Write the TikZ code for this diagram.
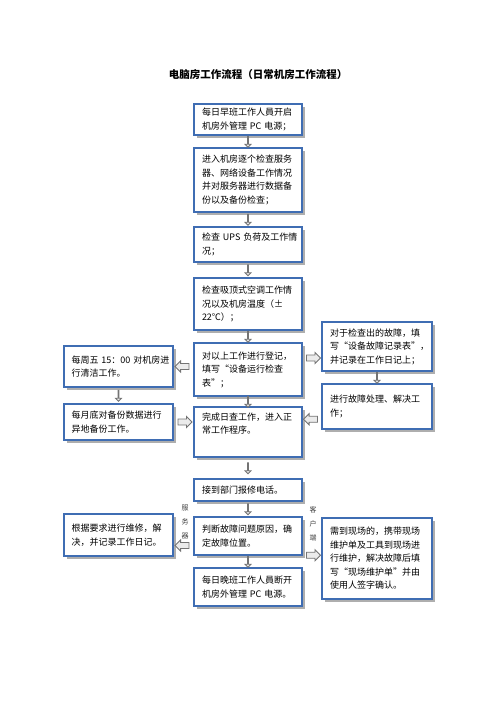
\documentclass[tikz,border=0pt]{standalone}
\usepackage{fontspec}
\setmainfont{Noto Sans CJK SC}
\usetikzlibrary{shapes.arrows,shadows,calc}
\definecolor{boxblue}{HTML}{3F6DB3}
\begin{document}
\begin{tikzpicture}[x=1pt,y=-1pt,
  bx/.style={draw=boxblue, line width=1.6pt, fill=white,
    drop shadow={shadow xshift=2.5pt, shadow yshift=-2.5pt, fill=black!45, opacity=0.7},
    align=left, inner sep=0pt, font=\fontsize{9}{13.5}\selectfont},
  mainbox/.style={bx, minimum width=108pt, text width=92pt},
  sidebox/.style={bx, minimum width=109pt, text width=94pt},
  blk/.style={single arrow, draw=black!55, fill=black!8, line width=0.8pt,
    inner xsep=0pt, inner ysep=2.6pt, single arrow head extend=2.6pt},
  dn/.style={blk, minimum height=11pt, shape border rotate=270},
  rt/.style={blk, minimum height=14pt, shape border rotate=0},
  lt/.style={blk, minimum height=14pt, shape border rotate=180},
  vlab/.style={align=center, font=\fontsize{7}{14}\selectfont, text=black!75, inner sep=0pt}
]
\useasboundingbox (0,0) rectangle (496,702);

\node[font=\fontsize{10.5}{12}\selectfont\bfseries] (title) at (258,75) {电脑房工作流程（日常机房工作流程）};

\node[mainbox, minimum height=31pt] (b1) at (248,119.5) {每日早班工作人員开启\\机房外管理~PC~电源；};
\node[mainbox, minimum height=64pt] (b2) at (248,180) {进入机房逐个检查服务\\器、网络设备工作情况\\并对服务器进行数据备\\份以及备份检查；};
\node[mainbox, minimum height=35pt] (b3) at (248,244.5) {检查~UPS~负荷及工作情\\况；};
\node[mainbox, minimum height=52pt] (b4) at (248,304) {检查吸顶式空调工作情\\况以及机房温度（±\\22℃）；};
\node[mainbox, minimum height=53pt] (b5) at (248,369.5) {对以上工作进行登记，\\填写“设备运行检查\\表”；};
\node[mainbox, minimum height=50pt] (b6) at (248,432) {完成日查工作，进入正\\常工作程序。\\ \strut};
\node[mainbox, minimum height=22pt] (b7) at (248,490) {接到部门报修电话。};
\node[mainbox, minimum height=38pt] (b8) at (248,536) {判断故障问题原因，确\\定故障位置。};
\node[mainbox, minimum height=38pt] (b9) at (248,587) {每日晚班工作人員断开\\机房外管理~PC~电源。};

\node[sidebox, minimum height=41pt] (l1) at (118.5,366.5) {每周五~15：00~对机房进\\行清洁工作。};
\node[sidebox, minimum height=36pt] (l2) at (118.5,422) {每月底对备份数据进行\\异地备份工作。};
\node[sidebox, minimum height=42pt] (l3) at (118.5,535) {根据要求进行维修，解\\决，并记录工作日记。};

\node[sidebox, minimum width=110pt, minimum height=49pt] (r1) at (377,346.5) {对于检查出的故障，填\\写“设备故障记录表”，\\并记录在工作日记上；};
\node[sidebox, minimum width=110pt, minimum height=45pt] (r2) at (377,406.5) {进行故障处理、解决工\\作；};
\node[sidebox, minimum width=110pt, minimum height=81pt] (r3) at (377,558.5) {需到现场的，携带现场\\维护单及工具到现场进\\行维护，解决故障后填\\写“现场维护单”并由\\使用人签字确认。};

\node[vlab] (lab1) at (185,522) {服\\务\\器};
\node[vlab] (lab2) at (313,524) {客\\户\\端};

% down arrows
\node[dn] (a1) at ($(b1.south)!0.5!(b2.north)$) {};
\node[dn] (a2) at ($(b2.south)!0.5!(b3.north)$) {};
\node[dn] (a3) at ($(b3.south)!0.5!(b4.north)$) {};
\node[dn] (a4) at ($(b4.south)!0.5!(b5.north)$) {};
\node[dn] (a5) at ($(b5.south)!0.5!(b6.north)$) {};
\node[dn] (a6) at ($(b6.south)!0.5!(b7.north)$) {};
\node[dn] (a7) at ($(b7.south)!0.5!(b8.north)$) {};
\node[dn] (a8) at ($(b8.south)!0.5!(b9.north)$) {};
\node[dn] (a9) at ($(l1.south)!0.5!(l2.north)$) {};
\node[dn] (a10) at ($(r1.south)!0.5!(r2.north)$) {};

% side arrows
\node[lt] (h1) at ($(l1.east)!0.5!(l1.east -| b5.west)$) {};
\node[rt] (h2) at ($(l2.east)!0.5!(l2.east -| b6.west)$) {};
\node[rt] (h3) at ($(b5.east)!0.5!(r1.west)$) {};
\node[lt] (h4) at ($(r2.west)!0.5!(b6.east)$) {};
\node[lt] (h5) at ($($(b8.west)!0.5!(l3.east)$)+(0,10)$) {};
\node[rt] (h6) at ($($(b8.east)!0.5!(r3.west)$)+(0,8)$) {};
\end{tikzpicture}
\end{document}
